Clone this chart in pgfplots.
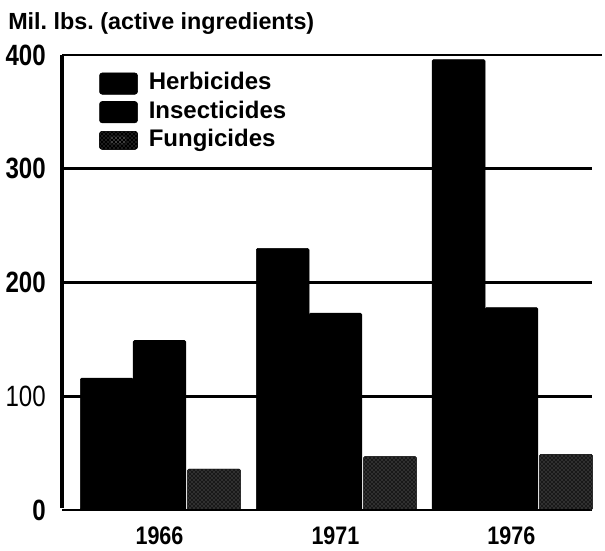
\documentclass[border=0pt]{standalone}
\usepackage{pgfplots}
\pgfplotsset{compat=1.18}
\usetikzlibrary{patterns}
\usepackage{fontspec}
\setmainfont{Liberation Sans}
\newfontfamily\condfont[FakeStretch=0.82]{Liberation Sans}
\newfontfamily\yearfont[FakeStretch=0.85]{Liberation Sans}
\begin{document}
\begin{tikzpicture}
\begin{axis}[
  at={(0pt,0pt)}, anchor=south west,
  scale only axis, width=397.5pt, height=341.25pt,
  xmin=-0.554, xmax=2.458, ymin=0, ymax=400,
  clip=false,
  axis line style={draw=none},
  major tick length=0pt,
  ytick={0,100,200,300,400},
  yticklabels={\textbf{0},100,\textbf{200},\textbf{300},\textbf{400}},
  yticklabel style={font=\condfont\fontsize{22}{22}\selectfont, inner sep=0pt, xshift=-12pt},
  /pgf/number format/assume math mode=true,
  xtick={0,1,2},
  xticklabels={1966,1971,1976},
  xticklabel style={font=\yearfont\bfseries\fontsize{19}{19}\selectfont, inner sep=0pt, yshift=-12.5pt, text depth=0pt},
  ymajorgrids,
  grid style={black, line width=1.9pt},
  ybar, bar width=0.30,
  legend style={at={(rel axis cs:0.0698,0.9626)}, anchor=north west, draw=none, fill=none,
    inner sep=0pt, row sep=4.4pt, column sep=8.25pt,
    font=\bfseries\fontsize{18}{18}\selectfont,
    nodes={inner sep=0pt, text height=13pt, text depth=4pt, anchor=base west}},
  legend cell align=left,
]
\addplot[fill=black, draw=black, bar shift=-0.30, rounded corners=1pt,
  legend image code/.code={\fill[black, rounded corners=2pt] (0pt,-3.5pt) rectangle (28.5pt,12.5pt);}]
  coordinates {(0,116) (1,230) (2,396)};
\addlegendentry{Herbicides}
\addplot[fill=black, draw=black, bar shift=0, rounded corners=1pt,
  legend image code/.code={\fill[black, rounded corners=2pt] (0pt,-3.5pt) rectangle (28.5pt,12.5pt);}]
  coordinates {(0,149) (1,173) (2,178)};
\addlegendentry{Insecticides}
\addplot[fill=black!90, draw=black!90, bar shift=0.31, rounded corners=1pt,
  postaction={pattern=crosshatch dots, pattern color=black!50},
  legend image code/.code={\fill[black, rounded corners=2pt] (0pt,-2pt) rectangle (28.5pt,11.5pt);
     \fill[pattern=dots, pattern color=black!60] (8pt,2pt) rectangle (20pt,8pt);}]
  coordinates {(0,36) (1,47) (2,49)};
\addlegendentry{Fungicides}
% axis lines
\draw[line width=2.4pt] (axis cs:-0.554,400) -- (axis cs:-0.554,2);
\draw[line width=2.2pt] (axis cs:-0.475,0) -- (axis cs:2.446,0);
\draw[line width=1.9pt] (axis cs:2.45,400) -- (axis cs:2.514,400);
\end{axis}
\node[anchor=base west, inner sep=0pt, font=\bfseries\fontsize{17.5}{17.5}\selectfont] at (-40.5pt,360pt) {Mil.\ lbs.\ (active\ ingredients)};
\pgfresetboundingbox
\useasboundingbox (-46.5pt,-30pt) rectangle (407.25pt,382.5pt);
\end{tikzpicture}
\end{document}
